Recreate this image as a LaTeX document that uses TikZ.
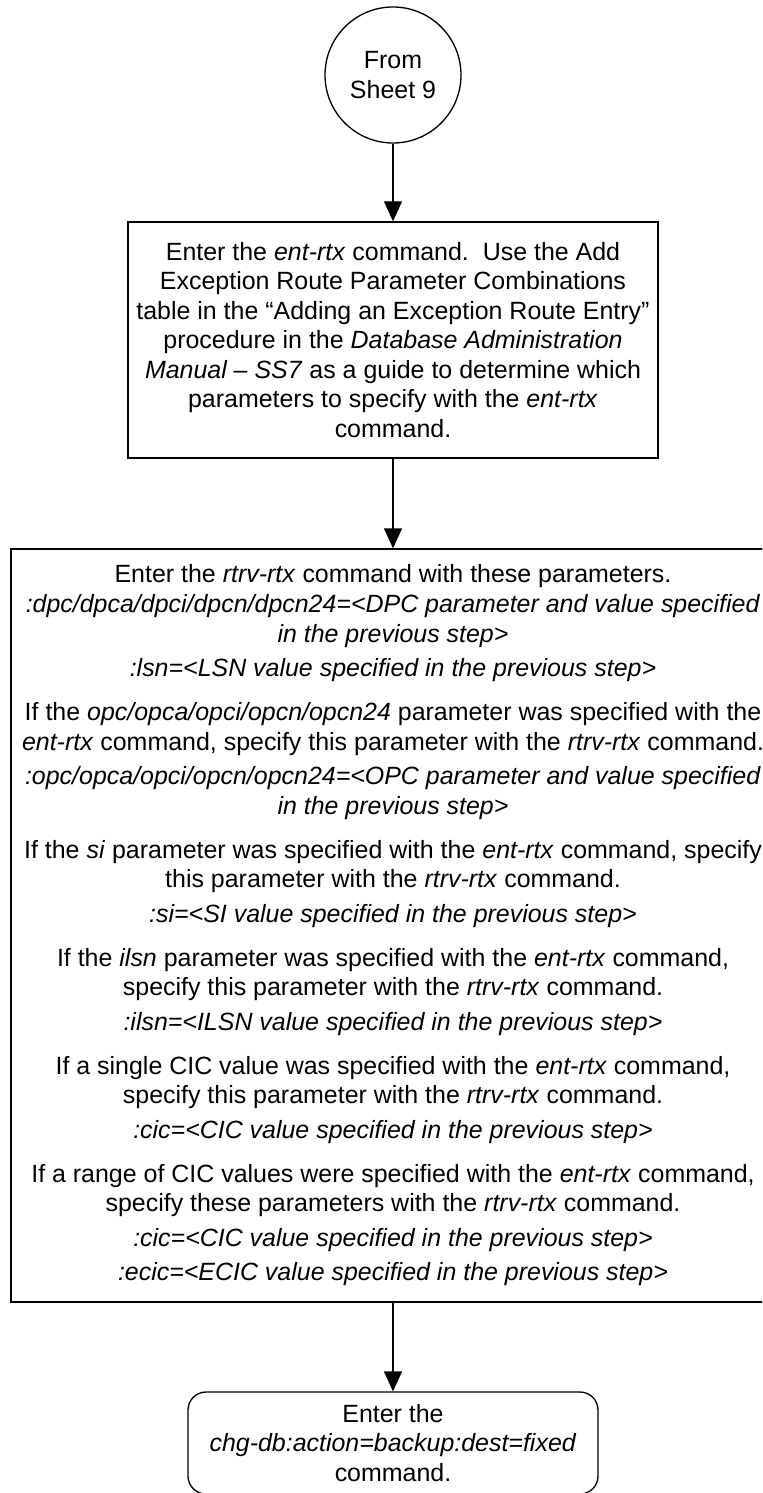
\documentclass[tikz,border=0pt]{standalone}
\usepackage{fontspec}
\setmainfont{Liberation Sans}
\usetikzlibrary{shapes,arrows.meta,positioning,shapes.geometric}

\newcommand{\flowfont}{\fontsize{14.2pt}{16.8pt}\selectfont}

\begin{document}
\begin{tikzpicture}[
    onpage/.style={circle, draw=black, line width=0.75pt, minimum size=2.72cm, inner sep=0pt, align=center, font=\flowfont},
    process/.style={rectangle, draw=black, line width=0.75pt, inner sep=0pt, align=center, font=\flowfont},
    terminal/.style={rectangle, rounded corners=0.36cm, draw=black, line width=0.75pt, minimum width=8.2cm, minimum height=2.04cm, inner sep=0pt, align=center, font=\flowfont},
    arrow/.style={-{Triangle[length=0.4cm, width=0.36cm]}, line width=0.75pt}
]

\useasboundingbox (0,0) rectangle (15.24,-29.86);
\clip (0,0) rectangle (15.24,-29.86);

\node[onpage] (sheet) at (7.86,-1.50) {From\\Sheet 9};

\node[process, minimum width=10.6cm, minimum height=4.72cm] (entrtx) at (7.86,-6.80)
  {Enter the \textit{ent-rtx} command.\ \ Use the Add\\
   Exception Route Parameter Combinations\\
   table in the “Adding an Exception Route Entry”\\
   procedure in the \textit{Database Administration}\\
   \textit{Manual – SS7} as a guide to determine which\\
   parameters to specify with the \textit{ent-rtx}\\
   command.};

\node[process, minimum width=15.28cm, minimum height=15.06cm] (rtrvrtx) at (7.86,-18.51)
  {Enter the \textit{rtrv-rtx} command with these parameters.\\
   \textit{:dpc/dpca/dpci/dpcn/dpcn24=<DPC parameter and value specified}\\
   \textit{in the previous step>}\\[0.1cm]
   \textit{:lsn=<LSN value specified in the previous step>}\\[0.29cm]
   If the \textit{opc/opca/opci/opcn/opcn24} parameter was specified with the\\
   \textit{ent-rtx} command, specify this parameter with the \textit{rtrv-rtx} command.\\[0.1cm]
   \textit{:opc/opca/opci/opcn/opcn24=<OPC parameter and value specified}\\
   \textit{in the previous step>}\\[0.29cm]
   If the \textit{si} parameter was specified with the \textit{ent-rtx} command, specify\\
   this parameter with the \textit{rtrv-rtx} command.\\[0.1cm]
   \textit{:si=<SI value specified in the previous step>}\\[0.29cm]
   If the \textit{ilsn} parameter was specified with the \textit{ent-rtx} command,\\
   specify this parameter with the \textit{rtrv-rtx} command.\\[0.1cm]
   \textit{:ilsn=<ILSN value specified in the previous step>}\\[0.29cm]
   If a single CIC value was specified with the \textit{ent-rtx} command,\\
   specify this parameter with the \textit{rtrv-rtx} command.\\[0.1cm]
   \textit{:cic=<CIC value specified in the previous step>}\\[0.29cm]
   If a range of CIC values were specified with the \textit{ent-rtx} command,\\
   specify these parameters with the \textit{rtrv-rtx} command.\\[0.1cm]
   \textit{:cic=<CIC value specified in the previous step>}\\[0.1cm]
   \textit{:ecic=<ECIC value specified in the previous step>}};

\node[terminal] (chgdb) at (7.86,-28.86)
  {Enter the\\
   \textit{chg-db:action=backup:dest=fixed}\\
   command.};

\draw[arrow] (sheet) -- (entrtx);
\draw[arrow] (entrtx) -- (rtrvrtx);
\draw[arrow] (rtrvrtx) -- (chgdb);

\end{tikzpicture}
\end{document}
